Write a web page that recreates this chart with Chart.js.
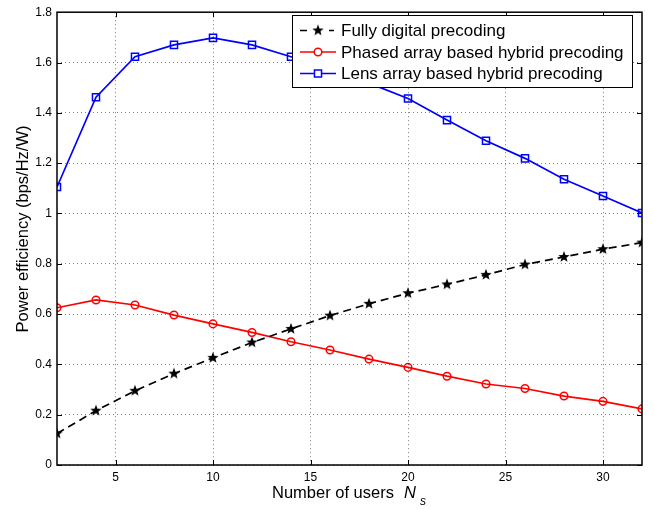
<!DOCTYPE html>
<html>
<head>
<meta charset="utf-8">
<script src="https://cdn.jsdelivr.net/npm/chart.js@4.4.1/dist/chart.umd.min.js"></script>
<style>
    html, body { margin: 0; padding: 0; background: #fff; }
    #wrap { width: 654px; height: 510px; }
</style>
</head>
<body>
<div id="wrap"><canvas id="grafico"></canvas></div>
<script>
// Dados
const usuarios = [2, 4, 6, 8, 10, 12, 14, 16, 18, 20, 22, 24, 26, 28, 30, 32];
const digital = [0.125, 0.216, 0.295, 0.363, 0.426, 0.487, 0.541, 0.594, 0.641, 0.683, 0.718, 0.756, 0.797, 0.827, 0.858, 0.884];
const phased = [0.625, 0.656, 0.636, 0.596, 0.561, 0.527, 0.490, 0.457, 0.421, 0.388, 0.353, 0.322, 0.304, 0.274, 0.253, 0.223];
const lens = [1.105, 1.462, 1.623, 1.670, 1.698, 1.670, 1.623, 1.575, 1.518, 1.457, 1.371, 1.289, 1.219, 1.136, 1.069, 1.002];
const ticksX = [5, 10, 15, 20, 25, 30];
const ticksY = [0, 0.2, 0.4, 0.6, 0.8, 1, 1.2, 1.4, 1.6, 1.8];
const nomes = ['Fully digital precoding', 'Phased array based hybrid precoding', 'Lens array based hybrid precoding'];

const fonte = '"Liberation Sans", Arial, Helvetica, sans-serif';

// Estrela preenchida (pentagrama do MATLAB)
function criarEstrela(raio) {
    const c = document.createElement('canvas');
    const lado = Math.ceil(raio * 2 + 2);
    c.width = lado;
    c.height = lado;
    const g = c.getContext('2d');
    g.fillStyle = '#000';
    g.beginPath();
    for (let i = 0; i < 10; i++) {
        const r = i % 2 === 0 ? raio : raio * 0.42;
        const ang = -Math.PI / 2 + i * Math.PI / 5;
        const px = lado / 2 + r * Math.cos(ang);
        const py = lado / 2 + r * Math.sin(ang);
        if (i === 0) g.moveTo(px, py); else g.lineTo(px, py);
    }
    g.closePath();
    g.fill();
    return c;
}
const estrela = criarEstrela(6);

function pares(valores) {
    return usuarios.map((x, i) => ({ x: x, y: valores[i] }));
}

// Moldura, ticks internos, legenda e títulos dos eixos
const moldura = {
    id: 'moldura',
    afterDraw(chart) {
        const { ctx, chartArea: a, scales } = chart;
        ctx.save();
        ctx.strokeStyle = '#000';
        ctx.lineWidth = 1.5;
        ctx.setLineDash([]);
        ctx.strokeRect(a.left, a.top, a.right - a.left, a.bottom - a.top);

        ctx.lineWidth = 1;
        ctx.beginPath();
        ticksX.forEach(v => {
            const px = Math.round(scales.x.getPixelForValue(v)) + 0.5;
            ctx.moveTo(px, a.bottom); ctx.lineTo(px, a.bottom - 5);
            ctx.moveTo(px, a.top); ctx.lineTo(px, a.top + 5);
        });
        ticksY.forEach(v => {
            const py = Math.round(scales.y.getPixelForValue(v)) + 0.5;
            ctx.moveTo(a.left, py); ctx.lineTo(a.left + 5, py);
            ctx.moveTo(a.right, py); ctx.lineTo(a.right - 5, py);
        });
        ctx.stroke();

        // Legenda
        const bx = 292.5, by = 15.5, bw = 340, bh = 72;
        ctx.fillStyle = '#fff';
        ctx.fillRect(bx, by, bw, bh);
        ctx.strokeStyle = '#000';
        ctx.lineWidth = 1;
        ctx.strokeRect(bx, by, bw, bh);
        ctx.font = '17px ' + fonte;
        ctx.textBaseline = 'middle';
        ctx.textAlign = 'left';
        chart.data.datasets.forEach((ds, i) => {
            const ly = 30.5 + i * 21.5;
            ctx.strokeStyle = ds.borderColor;
            ctx.lineWidth = ds.borderWidth;
            ctx.setLineDash(ds.borderDash || []);
            ctx.beginPath();
            ctx.moveTo(300, ly);
            ctx.lineTo(336, ly);
            ctx.stroke();
            ctx.setLineDash([]);
            if (ds.pointStyle === estrela) {
                ctx.fillStyle = '#fff';
                ctx.fillRect(307, ly - 6, 22, 12);
                ctx.drawImage(estrela, 318 - estrela.width / 2, ly - estrela.height / 2);
            } else {
                ctx.fillStyle = '#fff';
                ctx.strokeStyle = ds.borderColor;
                ctx.lineWidth = ds.pointBorderWidth;
                ctx.beginPath();
                if (ds.pointStyle === 'circle') {
                    ctx.arc(318, ly, ds.pointRadius, 0, Math.PI * 2);
                } else {
                    const s = ds.pointRadius * Math.SQRT1_2;
                    ctx.rect(318 - s, ly - s, 2 * s, 2 * s);
                }
                ctx.fill();
                ctx.stroke();
            }
            ctx.fillStyle = '#000';
            ctx.fillText(nomes[i], 341, ly + 1);
        });

        // Título do eixo y
        ctx.save();
        ctx.translate(28, 229);
        ctx.rotate(-Math.PI / 2);
        ctx.textAlign = 'center';
        ctx.textBaseline = 'alphabetic';
        ctx.font = '16.5px ' + fonte;
        ctx.fillStyle = '#000';
        ctx.fillText('Power efficiency (bps/Hz/W)', 0, 0);
        ctx.restore();

        // Título do eixo x com subscrito
        ctx.fillStyle = '#000';
        ctx.textAlign = 'left';
        ctx.textBaseline = 'alphabetic';
        ctx.font = '16.5px ' + fonte;
        ctx.fillText('Number of users', 272, 498);
        ctx.font = 'italic 16.5px ' + fonte;
        ctx.fillText('N', 404, 498);
        ctx.font = 'italic 12px ' + fonte;
        ctx.fillText('s', 420, 505);
        ctx.restore();
    }
};

const ctx = document.getElementById('grafico').getContext('2d');
new Chart(ctx, {
    type: 'line',
    data: {
        datasets: [
            {
                label: nomes[0],
                data: pares(digital),
                borderColor: '#000',
                borderWidth: 1.7,
                borderDash: [8, 5],
                pointStyle: estrela,
                pointRadius: 6,
                pointBorderWidth: 1
            },
            {
                label: nomes[1],
                data: pares(phased),
                borderColor: '#ff0000',
                backgroundColor: 'rgba(255,255,255,0)',
                borderWidth: 1.7,
                pointStyle: 'circle',
                pointRadius: 3.8,
                pointBorderWidth: 1.5,
                pointBackgroundColor: 'rgba(255,255,255,0)',
                pointBorderColor: '#ff0000'
            },
            {
                label: nomes[2],
                data: pares(lens),
                borderColor: '#0000ff',
                backgroundColor: 'rgba(255,255,255,0)',
                borderWidth: 1.7,
                pointStyle: 'rect',
                pointRadius: 5,
                pointBorderWidth: 1.5,
                pointBackgroundColor: 'rgba(255,255,255,0)',
                pointBorderColor: '#0000ff'
            }
        ]
    },
    options: {
        responsive: true,
        maintainAspectRatio: false,
        animation: false,
        devicePixelRatio: 1,
        layout: { padding: { left: 0, right: 12, top: 7, bottom: 0 } },
        plugins: {
            legend: { display: false },
            tooltip: { enabled: false }
        },
        scales: {
            x: {
                type: 'linear',
                min: 2,
                max: 32,
                afterBuildTicks: s => { s.ticks = ticksX.map(v => ({ value: v })); },
                afterFit: s => { s.height = 45; },
                grid: { color: '#808080', lineWidth: 1, drawTicks: false },
                border: { display: false, dash: [1, 3] },
                ticks: { color: '#000', padding: 5, font: { family: fonte, size: 12 }, callback: v => String(v) }
            },
            y: {
                min: 0,
                max: 1.8,
                afterBuildTicks: s => { s.ticks = ticksY.map(v => ({ value: v })); },
                afterFit: s => { s.width = 57; },
                grid: { color: '#808080', lineWidth: 1, drawTicks: false },
                border: { display: false, dash: [1, 3] },
                ticks: { color: '#000', padding: 5, font: { family: fonte, size: 12 }, callback: v => String(v) }
            }
        }
    },
    plugins: [moldura]
});
</script>
</body>
</html>
